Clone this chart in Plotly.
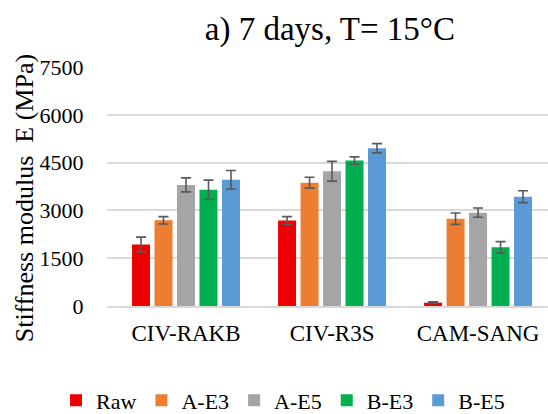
import plotly.graph_objects as go

categories = ["CIV-RAKB", "CIV-R3S", "CAM-SANG"]
series_names = ["Raw", "A-E3", "A-E5", "B-E3", "B-E5"]
values = {
    "Raw":  [1930, 2680, 105],
    "A-E3": [2690, 3870, 2740],
    "A-E5": [3800, 4230, 2930],
    "B-E3": [3650, 4565, 1840],
    "B-E5": [3960, 4950, 3430],
}
errors = {
    "Raw":  [230, 125, 25],
    "A-E3": [115, 170, 177],
    "A-E5": [220, 310, 146],
    "B-E3": [300, 115, 180],
    "B-E5": [290, 145, 187],
}
colors = {
    "Raw": "#EE0000",
    "A-E3": "#ED7D31",
    "A-E5": "#A5A5A5",
    "B-E3": "#00B050",
    "B-E5": "#5B9BD5",
}
y_ticks = [0, 1500, 3000, 4500, 6000, 7500]

FONT = "Liberation Serif, Times New Roman, serif"
fig = go.Figure()
for name in series_names:
    fig.add_trace(go.Bar(
        name=name, x=categories, y=values[name],
        marker=dict(color=colors[name], line=dict(width=0)),
        error_y=dict(type="data", array=errors[name], visible=True,
                     color="#595959", thickness=1.6, width=5),
    ))

fig.update_layout(
    width=548, height=414,
    margin=dict(l=107, r=0, t=67, b=108, autoexpand=False),
    paper_bgcolor="white", plot_bgcolor="white",
    barmode="group", bargap=0.23, bargroupgap=0.2,
    font=dict(family=FONT, color="#000000"),
    title=dict(text="a) 7 days, T= 15°C", x=0.602, xanchor="center",
               y=1 - 28 / 414, yanchor="middle", yref="container",
               font=dict(size=33, family=FONT, color="#000000")),
    showlegend=True,
    legend=dict(orientation="h", x=(56 - 107) / 441, xanchor="left", y=-0.395, yanchor="middle",
                font=dict(size=22, family=FONT, color="#000000"), itemwidth=30,
                traceorder="normal", bgcolor="rgba(0,0,0,0)"),
)
fig.update_xaxes(
    type="category", range=[-0.541, 2.479], automargin=False,
    showgrid=False, showline=True, linecolor="#D9D9D9", linewidth=1.5,
    ticks="outside", ticklen=6, tickcolor="rgba(0,0,0,0)",
    tickfont=dict(size=23, family=FONT, color="#000000"),
)
fig.update_yaxes(
    range=[0, 7500], tickvals=y_ticks, ticktext=[str(v) for v in y_ticks],
    automargin=False,
    showgrid=True, gridcolor="#D9D9D9", gridwidth=1.5, zeroline=False,
    ticks="outside", ticklen=18, tickcolor="rgba(0,0,0,0)",
    tickfont=dict(size=22, family=FONT, color="#000000"),
)
fig.add_annotation(
    text="Stiffness modulus\u00a0\u00a0E (MPa)", textangle=-90,
    xref="paper", yref="paper", x=(24 - 107) / 441, y=(305.7 - 198) / 239,
    xanchor="center", yanchor="middle", showarrow=False,
    font=dict(size=26, family=FONT, color="#000000"),
)
fig.write_html("out.html", config={"displayModeBar": False},
               post_script="document.body.style.margin='0';")
